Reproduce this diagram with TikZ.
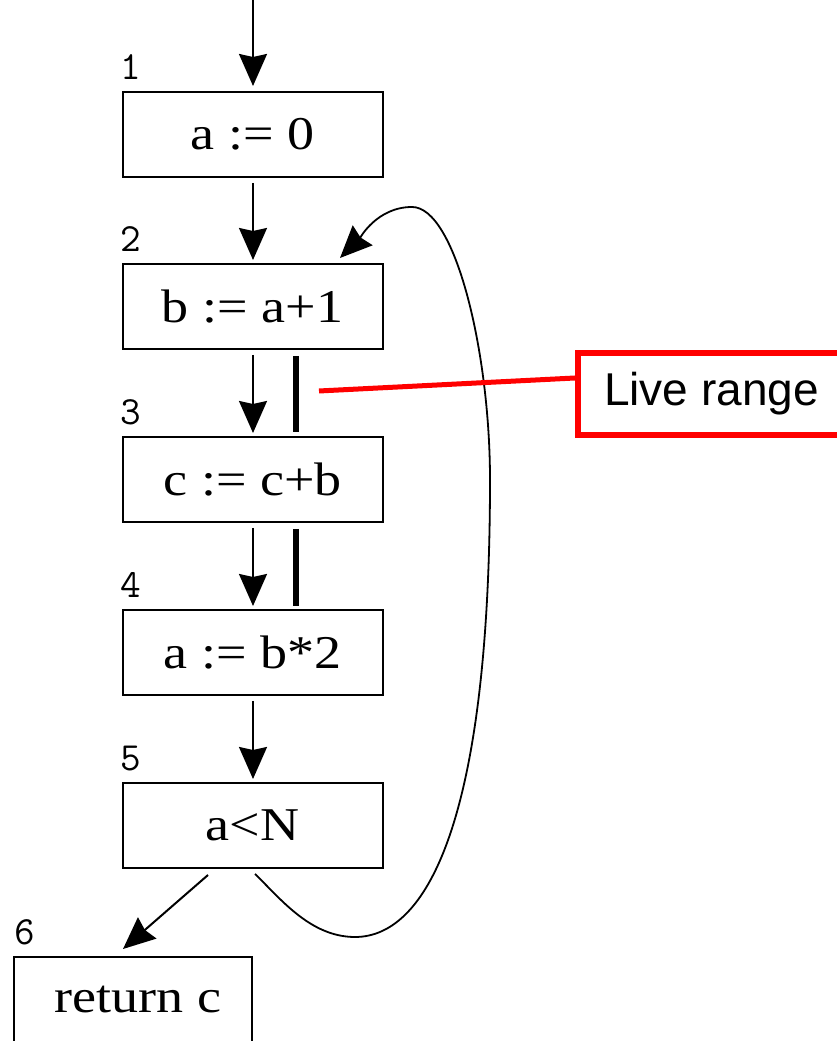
\documentclass[tikz,border=0pt]{standalone}
\usepackage{fontspec}
\setmainfont{Liberation Serif}
\newfontfamily\boxfont[FakeStretch=1.15]{Liberation Serif}
\newfontfamily\lrfont{Liberation Sans}
\usetikzlibrary{arrows.meta,calc}
\begin{document}
\begin{tikzpicture}[x=1pt,y=1pt,
  blk/.style={draw=black, line width=2pt, minimum width=260pt, minimum height=85pt, inner sep=0pt, font=\boxfont\fontsize{47}{50}\selectfont},
  num/.style={inner sep=0pt, anchor=base west, font=\ttfamily\fontsize{40}{42}\selectfont},
  flow/.style={line width=2pt, -{Stealth[length=32pt,width=28pt,inset=3pt]}},
  live/.style={line width=6pt},
  lrbox/.style={draw=red, line width=6pt, minimum width=267pt, minimum height=82pt, inner sep=0pt, font=\lrfont\fontsize{46}{50}\selectfont},
  redline/.style={draw=red, line width=5pt}
]
\useasboundingbox (0,0) rectangle (837,1041);
% blocks
\node[blk] (n1) at (252.5,906.5) {a := 0};
\node[blk] (n2) at (252.5,734.5) {b := a+1};
\node[blk] (n3) at (252.5,561.5) {c := c+b};
\node[blk] (n4) at (252.5,388.5) {a := b*2};
\node[blk] (n5) at (252.5,215.5) {a<N};
\node[blk, minimum width=238pt] (n6) at (133,41.5) {\hspace*{10pt}return c};
% numbers
\node[num] (l1) at ($(n1.north west)+(-1,11)$) {1};
\node[num] (l2) at ($(n2.north west)+(-1,11)$) {2};
\node[num] (l3) at ($(n3.north west)+(-1,11)$) {3};
\node[num] (l4) at ($(n4.north west)+(-1,11)$) {4};
\node[num] (l5) at ($(n5.north west)+(-1,11)$) {5};
\node[num] (l6) at ($(n6.north west)+(1,11)$) {6};
% flow arrows
\coordinate (top) at (253,1046);
\draw[flow] (top) -- ($(n1.north)+(0.5,5)$);
\draw[flow] ($(n1.south)+(0.5,-5)$) -- ($(n2.north)+(0.5,3)$);
\draw[flow] ($(n2.south)+(0.5,-5)$) -- ($(n3.north)+(0.5,3)$);
\draw[flow] ($(n3.south)+(0.5,-5)$) -- ($(n4.north)+(0.5,3)$);
\draw[flow] ($(n4.south)+(0.5,-5)$) -- ($(n5.north)+(0.5,3)$);
\draw[flow] ($(n5.south)+(-44.5,-6)$) -- ($(n6.north)+(-10,7)$);
% loop back
\draw[flow, line width=1.8pt] ($(n5.south)+(2.5,-5)$)
  .. controls (280,143) and (310,104) .. (355,104)
  .. controls (430,104) and (490,230) .. (490,561)
  .. controls (490,690) and (455,834) .. (412,834)
  .. controls (377,834) and (360,803) .. ($(n2.north)+(87.5,5)$);
% live range bars
\draw[live] ($(n2.south)+(43.5,-6)$) -- ($(n3.north)+(43.5,4)$);
\draw[live] ($(n3.south)+(43.5,-6)$) -- ($(n4.north)+(43.5,3)$);
% live range label
\node[lrbox] (rb) at (711.5,647) {Live range};
\coordinate (lr) at (319,650);
\draw[redline] (lr) -- ($(rb.west)+(0,16)$);
\end{tikzpicture}
\end{document}
